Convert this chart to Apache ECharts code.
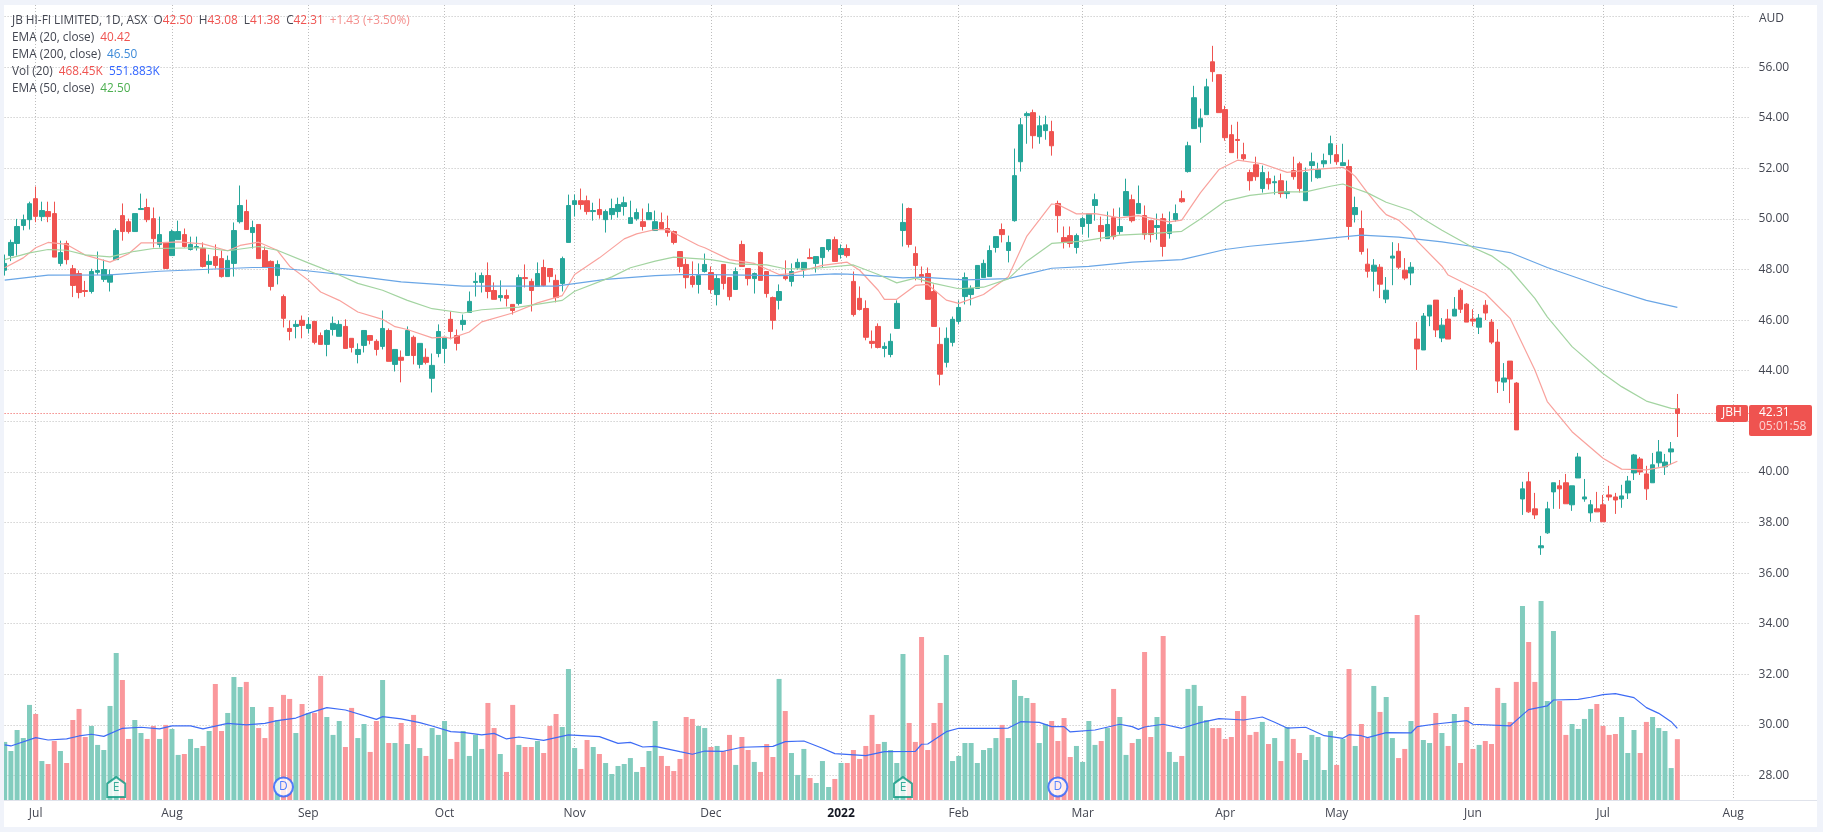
<!DOCTYPE html>
<html>
<head>
<meta charset="utf-8">
<title>JBH</title>
<script src="https://cdn.jsdelivr.net/npm/echarts@6/dist/echarts.min.js"></script>
<style>
	html, body { margin: 0; padding: 0; background: #fff; }
	#main { position: absolute; left: 0; top: 0; width: 1823px; height: 832px; }
	#frame { position: absolute; left: 0; top: 0; width: 1823px; height: 832px; box-sizing: border-box; pointer-events: none;
		border-style: solid; border-color: #f0f3fa; border-width: 5px 6px 5px 4px; }
</style>
</head>
<body>
<div id="main"></div>
<div id="frame"></div>
<script>
var opens = [
	47.97,48.55,49.03,49.74,49.97,50.8,50.09,50.29,50.21,48.24,
	49.03,48.03,47.84,47.17,47.13,47.89,47.61,47.5,48.39,50.13,
	49.89,49.5,50.37,50.45,50.01,48.99,49.07,48.55,49.18,49.38,
	48.79,48.87,48.83,48.2,48.51,48.43,47.72,48.24,49.89,50.29,
	49.46,49.78,48.75,48.32,47.76,46.93,45.67,45.75,45.99,45.67,
	45.95,45.39,45.04,45.63,45.36,45.75,45.28,44.64,45.0,45.39,
	45.16,44.96,45.59,44.25,44.53,44.6,45.32,44.25,44.53,43.7,
	44.68,44.88,46.03,45.39,45.83,46.3,47.49,47.49,47.76,47.17,
	46.89,46.97,46.62,46.66,47.68,47.53,47.33,48.08,48.04,47.57,
	47.45,49.07,50.57,50.72,50.72,50.29,50.37,49.97,50.17,50.29,
	50.49,49.82,50.01,49.89,49.97,49.54,49.86,49.62,49.5,48.71,
	48.2,47.72,47.41,47.92,47.88,47.01,48.2,47.68,47.21,48.99,
	48.04,47.64,48.67,47.92,46.89,46.78,47.72,47.53,48.08,48.0,
	48.47,48.24,48.47,48.79,49.18,48.59,48.83,47.53,46.86,46.46,
	45.16,45.75,44.88,44.64,45.67,49.54,50.41,48.63,47.8,47.84,
	47.13,45.04,44.33,45.12,45.95,46.93,47.01,47.25,47.68,47.72,
	48.87,49.58,48.75,49.93,52.26,54.08,54.2,53.25,53.49,53.45,
	50.61,49.26,49.34,48.87,49.7,49.82,50.53,49.74,49.22,50.05,
	49.5,50.13,50.76,50.21,50.13,49.93,49.66,50.01,49.42,49.97,
	50.8,51.87,53.57,53.64,54.12,56.21,55.7,54.32,53.33,53.14,
	52.54,51.83,52.14,51.2,51.59,51.43,51.51,51.0,51.91,52.18,
	50.72,52.11,51.63,52.18,52.54,52.54,52.11,52.07,50.17,49.62,
	48.21,47.93,48.09,46.83,48.45,48.72,47.97,47.86,45.25,44.82,
	46.16,46.79,45.29,46.04,46.16,47.18,46.63,46.04,45.72,46.59,
	45.92,45.13,43.55,44.38,43.51,38.93,39.61,38.54,37.0,37.59,
	39.21,39.45,39.57,38.7,39.76,38.93,38.38,38.54,38.7,39.09,
	39.01,38.93,39.17,39.96,40.51,39.92,39.57,40.36,40.2,40.79,
	42.5
];
var closes = [
	48.24,49.07,49.7,49.97,50.6,50.1,50.33,50.09,48.49,48.67,
	48.39,47.37,47.09,47.13,47.92,47.96,48.0,47.79,49.54,49.5,
	49.5,50.21,50.41,49.97,49.22,49.38,48.04,49.5,49.5,48.91,
	48.99,48.91,48.12,48.32,48.16,47.72,48.36,49.54,50.53,49.58,
	49.66,48.43,48.08,47.33,48.2,46.07,45.55,45.83,45.79,45.83,
	45.12,45.04,45.59,45.87,45.83,44.88,44.92,44.84,45.59,45.2,
	44.84,45.67,44.37,44.84,44.41,45.59,44.6,45.08,44.33,44.21,
	45.55,45.32,45.55,45.08,45.99,46.74,47.53,47.76,47.13,46.82,
	46.97,46.86,46.38,47.68,47.64,47.17,47.84,47.37,47.72,46.89,
	48.43,50.53,50.72,50.57,50.29,50.33,50.17,50.29,50.41,50.57,
	50.64,50.05,50.25,49.7,50.25,49.89,49.62,49.46,49.07,48.12,
	47.68,47.41,47.76,48.2,47.21,47.64,47.45,46.93,47.92,48.12,
	47.64,47.84,47.57,47.05,45.99,47.13,47.64,47.92,48.28,48.28,
	48.43,48.51,48.87,49.18,48.32,48.83,48.55,46.22,46.42,45.32,
	45.08,44.92,44.96,45.16,46.66,49.86,48.99,48.16,47.72,46.82,
	45.75,43.86,45.28,46.03,46.5,47.68,47.25,48.16,48.24,48.75,
	49.3,49.38,49.07,51.71,53.72,54.16,53.29,53.68,53.72,52.89,
	50.13,49.07,49.03,49.34,50.01,50.21,50.76,49.5,49.78,49.3,
	49.7,51.08,49.93,50.61,49.38,49.38,49.74,48.91,49.78,50.21,
	50.68,52.89,54.79,53.96,55.22,55.82,54.2,53.21,52.62,53.1,
	52.38,51.51,51.67,51.83,51.39,51.47,51.0,51.08,51.67,51.2,
	51.83,52.26,51.95,52.3,52.97,52.26,52.22,49.7,50.45,48.71,
	47.93,48.17,47.42,47.18,48.53,48.09,47.66,48.09,44.86,46.16,
	46.59,45.61,45.8,45.25,46.43,46.43,45.92,45.96,46.08,46.28,
	45.13,43.59,43.71,43.67,41.66,39.33,38.42,38.3,37.08,38.54,
	39.57,39.33,38.74,39.45,40.59,39.01,38.7,38.42,38.03,39.01,
	38.89,39.05,39.64,40.67,40.0,39.33,40.28,40.79,40.39,40.91,
	42.31
];
var highs = [
	48.59,49.18,50.0,50.17,50.68,51.28,50.68,50.68,50.68,49.14,
	49.14,48.18,47.96,47.55,48.03,48.71,48.39,48.0,49.62,50.61,
	50.01,50.21,51.0,50.8,50.45,50.09,49.07,49.58,49.93,49.62,
	49.3,49.3,49.07,48.59,48.99,48.75,48.55,49.86,51.32,50.76,
	49.93,49.78,48.91,48.36,48.36,47.01,45.99,45.99,46.18,46.11,
	45.95,45.51,45.63,46.14,45.99,46.03,45.28,45.08,45.59,45.39,
	45.24,46.38,45.67,44.84,44.8,45.75,45.39,45.08,44.88,44.68,
	45.83,45.32,46.34,45.63,46.22,47.13,47.88,47.88,48.28,47.49,
	47.57,47.21,46.62,47.8,48.2,47.64,48.28,48.39,48.04,47.8,
	48.51,50.96,50.96,51.2,50.92,50.64,50.8,50.37,50.8,50.84,
	50.88,50.72,50.41,50.41,50.61,50.33,50.25,50.13,49.54,48.71,
	48.43,48.32,48.24,48.63,48.12,47.8,48.2,47.68,48.08,49.14,
	48.04,47.88,48.71,47.92,46.93,47.41,48.36,48.24,48.43,48.28,
	48.83,48.51,48.87,49.18,49.3,48.99,48.99,47.92,47.33,46.78,
	45.59,45.87,45.12,45.47,46.78,50.61,50.45,48.91,48.12,48.08,
	47.41,45.71,45.71,46.14,46.78,47.88,47.37,48.16,48.39,48.95,
	49.3,49.82,49.34,52.78,53.99,54.24,54.32,54.08,54.08,53.88,
	50.72,49.7,49.7,49.42,50.09,50.21,51.0,50.09,50.29,50.41,
	50.45,51.59,50.96,51.32,50.53,49.93,50.21,50.21,50.29,50.57,
	51.12,53.05,55.26,54.36,55.54,56.84,55.7,54.47,53.72,53.84,
	53.01,51.95,52.46,52.11,51.87,51.71,51.79,51.51,52.46,52.26,
	52.03,52.62,52.22,52.58,53.29,52.93,52.97,52.34,50.88,50.33,
	48.83,48.41,48.21,47.7,49.08,49.04,48.45,48.29,45.92,46.28,
	46.59,46.79,46.08,46.43,46.91,47.26,46.67,46.43,46.24,46.79,
	46.04,45.64,44.3,44.38,43.55,39.61,40.0,39.17,37.47,38.82,
	39.57,39.68,39.92,39.45,40.75,39.72,38.89,39.21,39.09,39.45,
	39.17,39.49,39.84,40.71,40.59,40.24,40.75,41.26,40.71,41.18,
	43.08
];
var lows = [
	47.76,48.33,48.55,49.55,49.58,49.87,49.91,49.87,48.49,48.13,
	48.2,46.91,46.86,46.92,47.05,47.79,47.51,47.13,48.37,49.14,
	49.42,49.5,50.37,49.87,48.87,48.87,48.04,48.55,49.18,48.87,
	48.75,48.75,48.08,47.84,48.04,47.68,47.72,47.72,49.82,49.58,
	48.83,48.43,48.08,47.17,47.41,45.71,45.2,45.28,45.28,45.47,
	45.04,45.04,44.57,45.39,45.36,44.88,44.72,44.29,44.72,45.04,
	44.6,44.84,44.37,43.97,43.54,44.6,44.25,44.09,44.25,43.14,
	44.53,44.29,45.24,44.8,45.59,46.3,46.93,47.09,46.86,46.82,
	46.74,46.54,46.22,46.58,47.29,46.34,47.33,47.33,47.49,46.7,
	47.13,49.07,50.09,50.37,50.17,49.93,50.01,49.46,49.97,50.05,
	50.13,49.82,49.93,49.54,49.97,49.54,49.62,49.3,48.99,47.88,
	47.25,47.29,47.05,47.88,47.05,46.58,47.21,46.78,47.21,48.12,
	47.37,47.05,47.57,46.89,45.63,46.42,47.57,47.33,48.0,47.68,
	48.43,47.88,48.08,48.71,48.32,48.43,48.47,46.14,46.38,45.2,
	44.88,44.88,44.53,44.53,45.67,48.91,48.87,47.57,47.49,46.82,
	45.75,43.42,44.13,44.96,45.83,46.62,46.58,47.25,47.68,47.72,
	48.67,49.07,48.28,49.89,51.87,52.97,52.78,52.97,53.13,52.5,
	49.46,48.83,48.87,48.63,49.38,49.26,49.93,49.11,49.22,49.18,
	49.38,50.13,49.86,50.21,49.18,49.07,49.18,48.51,49.22,49.89,
	50.64,51.83,53.57,53.01,54.12,55.42,54.2,53.09,52.62,52.38,
	52.3,51.12,51.51,51.04,51.16,50.96,50.84,50.8,51.55,51.04,
	50.72,51.47,51.59,52.03,52.18,52.14,52.11,49.18,49.86,48.59,
	47.68,47.14,46.87,46.67,47.38,48.01,47.58,47.38,44.03,44.82,
	45.76,45.33,45.13,45.25,46.16,46.28,45.92,45.76,45.45,46.0,
	45.05,43.12,43.2,42.72,41.66,38.3,38.38,38.14,36.72,37.55,
	38.54,38.54,38.74,38.46,39.76,38.82,38.03,38.42,38.03,38.86,
	38.34,38.58,38.93,39.68,39.88,38.89,39.57,40.2,39.88,40.28,
	41.38
];
// volume, thousands of shares
var volumes = [
	447,377,539,477,732,662,300,277,454,377,
	285,616,701,485,570,424,385,724,1132,924,
	470,616,516,470,570,470,578,547,347,354,
	470,400,416,531,893,531,670,947,870,909,
	716,554,477,716,616,809,778,516,739,670,
	670,955,639,501,608,408,709,477,585,370,
	608,924,439,439,593,431,655,400,339,554,
	501,608,316,447,531,339,501,393,747,554,
	354,216,732,424,408,408,454,362,570,662,
	562,1009,400,239,462,408,354,285,200,262,
	277,323,216,254,377,608,339,262,223,316,
	639,624,570,554,408,416,377,501,270,485,
	385,293,216,431,331,932,685,362,193,393,
	169,131,300,100,162,285,285,385,316,416,
	655,431,447,385,285,1124,593,447,1255,385,
	593,747,1117,300,339,439,439,285,385,400,
	477,578,477,924,801,785,747,439,585,608,
	454,631,331,416,293,608,424,454,554,855,
	639,347,439,470,1140,485,639,1263,370,293,
	339,855,886,724,616,554,554,470,485,685,
	801,501,524,601,431,477,300,562,470,362,
	308,501,485,231,531,270,470,1009,416,585,
	477,878,678,793,477,323,393,608,1425,462,
	439,670,516,416,662,285,716,393,424,454,
	431,863,747,601,909,1494,1217,909,1532,762,
	1301,762,501,585,547,624,701,739,570,501,
	508,639,362,539,362,601,639,554,531,246,
	468.45
];

// lines at [bar, value]
var ema20 = [[0,48.07],[3,48.46],[5,48.86],[7,49.07],[10,48.99],[13,48.57],[17,48.29],[20,48.62],[22,49.05],[25,49.05],[28,49.09],[32,49.01],[36,48.74],[38,48.95],[41,49.08],[44,48.76],[46,48.13],[49,47.58],[51,47.11],[54,46.78],[57,46.32],[61,46.03],[63,45.74],[65,45.63],[69,45.3],[71,45.33],[72,45.28],[75,45.53],[77,45.93],[82,46.28],[86,46.68],[90,46.97],[92,47.8],[96,48.46],[100,49.21],[102,49.41],[105,49.58],[107,49.58],[112,48.95],[113,48.86],[117,48.39],[121,48.24],[125,47.8],[127,47.84],[132,48.16],[136,48.29],[138,47.97],[141,47.18],[142,46.82],[144,46.82],[147,47.37],[149,47.41],[152,46.79],[154,46.66],[158,47.01],[162,47.71],[165,49.32],[169,50.59],[170,50.57],[173,50.2],[176,50.21],[180,50.04],[183,50.13],[188,49.88],[190,49.95],[193,51.03],[196,51.95],[199,52.32],[203,52.18],[207,51.84],[211,51.95],[216,52.04],[217,51.88],[218,51.68],[220,51.03],[222,50.43],[223,50.17],[225,49.95],[227,49.51],[228,49.12],[232,48.13],[233,47.78],[239,47.05],[243,46.07],[247,44.03],[249,42.78],[253,41.59],[258,40.54],[261,40.11],[265,40.08],[268,40.21],[270,40.42]];
var ema50 = [[0,48.39],[4,48.66],[7,48.79],[10,48.76],[13,48.58],[17,48.5],[21,48.72],[24,48.83],[32,48.86],[36,48.74],[41,48.91],[44,48.76],[49,48.26],[54,47.78],[57,47.45],[61,47.18],[65,46.78],[69,46.45],[74,46.28],[77,46.41],[83,46.51],[90,46.78],[92,47.14],[98,47.71],[101,48.07],[105,48.33],[108,48.49],[114,48.39],[118,48.22],[123,48.18],[126,48.03],[130,48.03],[137,48.18],[141,47.8],[144,47.47],[147,47.66],[150,47.45],[154,47.24],[158,47.3],[162,47.63],[165,48.33],[169,49.03],[174,49.12],[180,49.36],[185,49.42],[190,49.51],[193,50.0],[197,50.7],[201,50.93],[206,51.07],[210,51.07],[214,51.29],[216,51.38],[218,51.2],[220,51.03],[223,50.66],[227,50.33],[229,50.0],[232,49.55],[237,48.87],[240,48.54],[243,48.0],[247,46.86],[249,46.13],[253,44.95],[258,43.89],[261,43.37],[265,42.8],[269,42.51],[270,42.5]];
var ema200 = [[0,47.58],[7,47.78],[17,47.79],[25,47.93],[32,48.0],[40,48.08],[43,48.08],[48,47.97],[56,47.76],[64,47.51],[74,47.34],[81,47.34],[89,47.34],[97,47.61],[105,47.76],[109,47.8],[114,47.8],[125,47.76],[130,47.78],[134,47.83],[136,47.82],[140,47.76],[145,47.67],[148,47.7],[155,47.59],[162,47.64],[165,47.82],[169,48.05],[175,48.12],[182,48.29],[190,48.39],[197,48.79],[201,48.92],[210,49.13],[216,49.29],[219,49.36],[225,49.28],[232,49.09],[237,48.91],[243,48.67],[249,48.08],[258,47.32],[265,46.78],[270,46.5]];
var volMa = [[0,424],[1,416],[5,480],[7,462],[10,470],[12,493],[14,506],[16,490],[19,552],[22,560],[25,547],[27,570],[30,570],[32,547],[36,590],[39,578],[42,590],[44,611],[47,631],[49,667],[52,711],[55,693],[60,621],[61,642],[64,624],[67,596],[69,570],[72,526],[74,521],[77,501],[79,513],[81,470],[83,485],[87,459],[91,501],[96,488],[99,436],[101,444],[103,408],[105,413],[109,372],[111,352],[113,377],[116,375],[119,406],[124,413],[126,449],[129,454],[132,398],[134,357],[139,341],[142,372],[147,375],[148,429],[149,431],[152,526],[154,552],[160,552],[162,554],[164,603],[167,598],[169,565],[171,565],[172,524],[176,539],[180,583],[182,565],[183,544],[184,562],[187,583],[190,552],[193,596],[196,626],[200,616],[203,639],[205,598],[207,554],[210,560],[213,495],[216,475],[217,503],[219,495],[220,480],[223,519],[227,516],[228,565],[231,585],[236,611],[237,583],[243,570],[245,655],[246,696],[249,724],[250,770],[254,775],[256,791],[258,811],[260,819],[263,788],[265,711],[267,667],[269,603],[270,552]];

var barCount = 282; // 271 bars plus the empty room on the right
var monthBars = [5,27,49,71,92,114,135,154,174,197,215,237,258,279];
var monthLabels = ['Jul','Aug','Sep','Oct','Nov','Dec','2022','Feb','Mar','Apr','May','Jun','Jul','Aug'];
var earningsBars = [18,145];
var dividendBars = [45,170];
var markerVolume = 100;
var lastClose = 42.31;

var legendLines = [
	[['t','JB HI-FI LIMITED, 1D, ASX  O'],['r','42.50'],['t','  H'],['r','43.08'],['t','  L'],['r','41.38'],['t','  C'],['r','42.31'],['l','  +1.43 (+3.50%)']],
	[['t','EMA (20, close)  '],['r','40.42']],
	[['t','EMA (200, close)  '],['b','46.50']],
	[['t','Vol (20)  '],['r','468.45K  '],['v','551.883K']],
	[['t','EMA (50, close)  '],['g','42.50']]
];

var up = '#26a69a', down = '#ef5350';
var font = '"Open Sans", "Noto Sans", sans-serif';
var legendFont = '11.8px ' + font;

var cats = [];
for (var i = 0; i < barCount; i++) cats.push('b' + i);

var candleData = opens.map(function(o, i) { return [o, closes[i], lows[i], highs[i]]; });
var volData = volumes.map(function(v, i) {
	return { value: v, itemStyle: { color: closes[i] >= opens[i] ? '#82ccbe' : '#fa989c' } };
});

function isMonth(i) { return monthBars.indexOf(i) >= 0; }

var gridLine = { color: '#bdbdbd', width: 1, type: [1, 2] };
var left = 1.6, width = 1747;

var legendGraphics = legendLines.map(function(parts, n) {
	return {
		type: 'text', left: 12, top: 15 + n * 17, z: 50, silent: true,
		style: {
			text: parts.map(function(p) { return '{' + p[0] + '|' + p[1] + '}'; }).join(''),
			rich: {
				t: { fill: '#434651', font: legendFont },
				r: { fill: '#ef5350', font: legendFont },
				l: { fill: '#f4908e', font: legendFont },
				b: { fill: '#3d8ad8', font: legendFont },
				v: { fill: '#3366ff', font: legendFont },
				g: { fill: '#4caf50', font: legendFont }
			}
		}
	};
});

var chart = echarts.init(document.getElementById('main'), null, { renderer: 'canvas' });
chart.setOption({
	animation: false,
	backgroundColor: '#fff',
	grid: [
		{ left: left, width: width, top: 16.5, height: 759 }, // price
		{ left: left, width: width, top: 5, height: 795 } // volume, months
	],
	xAxis: [
		{ type: 'category', gridIndex: 0, data: cats, show: false },
		{
			type: 'category', gridIndex: 1, data: cats,
			axisLine: { show: true, lineStyle: { color: '#e0e3eb', width: 1 } },
			axisTick: { show: false },
			axisLabel: {
				color: '#434651', fontSize: 12, fontFamily: font, margin: 8,
				interval: function(i) { return isMonth(i); },
				formatter: function(v, i) {
					var name = monthLabels[monthBars.indexOf(i)];
					return name === '2022' ? '{y|2022}' : name;
				},
				rich: { y: { fontWeight: 'bold', color: '#131722', fontSize: 12, fontFamily: font } }
			},
			splitLine: {
				show: true, alignWithLabel: true,
				interval: function(i) { return isMonth(i); },
				lineStyle: gridLine
			}
		}
	],
	yAxis: [
		{
			type: 'value', gridIndex: 0, position: 'right', min: 28, max: 58, interval: 2, scale: true,
			axisLine: { show: false }, axisTick: { show: false },
			axisLabel: {
				color: '#434651', fontSize: 12, fontFamily: font, margin: 10, padding: [2, 0, 0, 0],
				formatter: function(v) { return v === 58 ? '' : v.toFixed(2); }
			},
			splitLine: { show: true, lineStyle: gridLine }
		},
		{ type: 'value', gridIndex: 1, min: 0, max: 6120, show: false, splitLine: { show: false } }
	],
	series: [
		{
			name: 'Vol', type: 'bar', xAxisIndex: 1, yAxisIndex: 1, data: volData, barWidth: 5, z: 2
		},
		{
			name: 'Vol MA', type: 'line', xAxisIndex: 1, yAxisIndex: 1, data: volMa, showSymbol: false, z: 3,
			lineStyle: { color: '#3d6bf5', width: 1.2 }
		},
		{
			name: 'JBH', type: 'candlestick', xAxisIndex: 0, yAxisIndex: 0, data: candleData, barWidth: 5, z: 4,
			itemStyle: { color: up, color0: down, borderColor: up, borderColor0: down, borderWidth: 1 },
			markLine: {
				silent: true, symbol: 'none', animation: false,
				label: { show: false },
				lineStyle: { color: down, width: 1, type: [1, 2] },
				data: [{ yAxis: lastClose }]
			}
		},
		{
			name: 'EMA 20', type: 'line', xAxisIndex: 0, yAxisIndex: 0, data: ema20, showSymbol: false, z: 5,
			lineStyle: { color: '#f9a29d', width: 1.2 }
		},
		{
			name: 'EMA 200', type: 'line', xAxisIndex: 0, yAxisIndex: 0, data: ema200, showSymbol: false, z: 5,
			lineStyle: { color: '#6aa6e6', width: 1.2 }
		},
		{
			name: 'EMA 50', type: 'line', xAxisIndex: 0, yAxisIndex: 0, data: ema50, showSymbol: false, z: 5,
			lineStyle: { color: '#a3d4a1', width: 1.2 }
		},
		{
			name: 'Earnings', type: 'scatter', xAxisIndex: 1, yAxisIndex: 1, z: 6, silent: true,
			data: earningsBars.map(function(b) { return [b, markerVolume]; }),
			symbol: 'path://M10 0L20 7L20 21L0 21L0 7Z', symbolSize: [18, 20],
			itemStyle: { color: '#fff', borderColor: '#0b9981', borderWidth: 2 },
			label: { show: true, position: 'inside', formatter: 'E', color: '#0b9981', fontSize: 12, fontFamily: font, offset: [0, 1] }
		},
		{
			name: 'Dividends', type: 'scatter', xAxisIndex: 1, yAxisIndex: 1, z: 6, silent: true,
			data: dividendBars.map(function(b) { return [b, markerVolume]; }),
			symbol: 'circle', symbolSize: 19,
			itemStyle: { color: '#fff', borderColor: '#2962ff', borderWidth: 2 },
			label: { show: true, position: 'inside', formatter: 'D', color: '#2962ff', fontSize: 12, fontFamily: font }
		}
	]
});

// tags and text that are not part of the axes
var lastY = chart.convertToPixel({ yAxisIndex: 0 }, lastClose);
chart.setOption({
	graphic: legendGraphics.concat([
		{ type: 'text', left: 1759, top: 13, silent: true, style: { text: 'AUD', fill: '#434651', font: '12px ' + font } },
		{ type: 'rect', silent: true, z: 40, shape: { x: 1749, y: 800, width: 70, height: 1 }, style: { fill: '#e0e3eb' } },
		{ type: 'rect', silent: true, z: 40, shape: { x: 1716, y: lastY - 8.5, width: 32, height: 17, r: 2 }, style: { fill: down } },
		{ type: 'text', silent: true, z: 41, left: 1722, top: lastY - 7, style: { text: 'JBH', fill: '#fff', font: '12px ' + font } },
		{ type: 'rect', silent: true, z: 40, shape: { x: 1749, y: lastY - 8.5, width: 63, height: 31, r: 2 }, style: { fill: down } },
		{ type: 'text', silent: true, z: 41, left: 1759, top: lastY - 7, style: { text: lastClose.toFixed(2), fill: '#fff', font: '12px ' + font } },
		{ type: 'text', silent: true, z: 41, left: 1759, top: lastY + 7, style: { text: '05:01:58', fill: '#fcd4d3', font: '12px ' + font } }
	])
});
</script>
</body>
</html>
